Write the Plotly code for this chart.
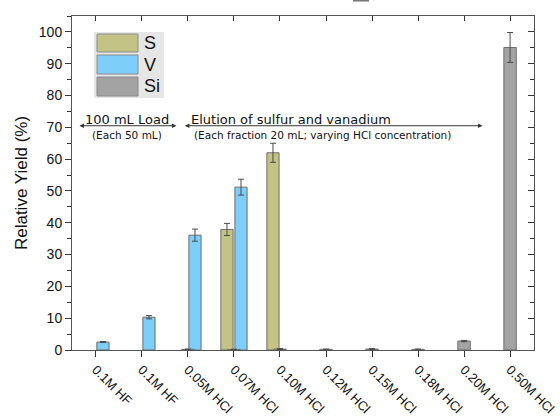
import plotly.graph_objects as go

# Fractions collected during the column run (the first two are both 0.1M HF load fractions)
fractions = ["0.1M HF", "0.1M HF", "0.05M HCl", "0.07M HCl", "0.10M HCl",
             "0.12M HCl", "0.15M HCl", "0.18M HCl", "0.20M HCl", "0.50M HCl"]
positions = list(range(len(fractions)))

# Relative yield (%) per element and its uncertainty
s_yield = [None, None, None, 37.9, 62.0, None, None, None, None, None]
s_err = [0, 0, 0, 1.9, 3.0, 0, 0, 0, 0, 0]
v_yield = [2.5, 10.3, 36.1, 51.2, None, None, None, None, None, None]
v_err = [0.15, 0.5, 1.9, 2.5, 0, 0, 0, 0, 0, 0]
si_yield = [None, None, 0.2, 0.15, 0.3, 0.2, 0.3, 0.2, 2.8, 95.1]
si_err = [0, 0, 0.1, 0.1, 0.15, 0.1, 0.15, 0.1, 0.2, 4.7]

colors = {"S": "#c3c386", "V": "#7dcef8", "Si": "#a3a3a3"}
offsets = {"S": -0.285, "V": 0.02, "Si": -0.135}
widths = {"S": 0.265, "V": 0.265, "Si": 0.27}

fig = go.Figure()
for name, vals, errs in [("S", s_yield, s_err), ("V", v_yield, v_err), ("Si", si_yield, si_err)]:
    fig.add_trace(go.Bar(
        x=positions, y=vals, name=name,
        width=widths[name], offset=offsets[name],
        marker=dict(color=colors[name], line=dict(color="#6e6e6e", width=1)),
        error_y=dict(type="data", array=errs, visible=True,
                     color="#4a4a4a", thickness=1, width=3),
        showlegend=False,
    ))

axis_col = "#555555"
tick_font = dict(family="Liberation Sans, Arial, sans-serif", size=14, color="#111111")

fig.update_layout(
    width=560, height=416,
    margin=dict(l=72, r=26, t=16, b=66),
    paper_bgcolor="white", plot_bgcolor="white",
    barmode="overlay",
    xaxis=dict(
        range=[-0.52, 9.52], tickvals=positions, ticktext=fractions,
        tickangle=45, tickfont=dict(family="Liberation Sans, Arial, sans-serif", size=13, color="#111111"),
        ticklabeloverflow="allow",
        ticks="outside", ticklen=6, tickcolor="#333333", tickwidth=1,
        showline=True, linecolor=axis_col, linewidth=1, showgrid=False,
        zeroline=False, automargin=False,
    ),
    yaxis=dict(
        range=[0, 105], tickvals=[0, 10, 20, 30, 40, 50, 60, 70, 80, 90, 100],
        ticks="outside", ticklen=6, tickcolor="#333333", tickwidth=1,
        minor=dict(dtick=5, ticks="outside", ticklen=4, tickcolor="#333333"),
        tickfont=tick_font, showline=True, linecolor=axis_col, linewidth=1,
        showgrid=False, zeroline=False, automargin=False,
        title=dict(text="Relative Yield (%)", standoff=6,
                   font=dict(family="Liberation Sans, Arial, sans-serif", size=17, color="#111111")),
    ),
    # mirrored frame with inward ticks on top and right
    xaxis2=dict(
        overlaying="x", side="top", range=[-0.52, 9.52], tickvals=positions,
        showticklabels=False, ticks="inside", ticklen=5, tickcolor="#333333",
        showline=True, linecolor=axis_col, showgrid=False, zeroline=False,
    ),
    yaxis2=dict(
        overlaying="y", side="right", range=[0, 105], dtick=10,
        showticklabels=False, ticks="inside", ticklen=6, tickcolor="#333333",
        minor=dict(dtick=5, ticks="inside", ticklen=4, tickcolor="#333333"),
        showline=True, linecolor=axis_col, showgrid=False, zeroline=False,
    ),
)

# invisible trace to activate the mirrored axes
fig.add_trace(go.Scatter(x=[None], y=[None], xaxis="x2", yaxis="y2", showlegend=False))

# legend panel
fig.add_shape(type="rect", xref="paper", yref="paper",
              x0=(94 - 72) / 462, x1=(164 - 72) / 462,
              y0=(350 - 98) / 334, y1=(350 - 32) / 334,
              fillcolor="#e6e6e6", line=dict(width=0), layer="above")
legend_rows = [("S", 34, 52), ("V", 55, 74), ("Si", 77, 96)]
for name, top, bot in legend_rows:
    fig.add_shape(type="rect", xref="paper", yref="paper",
                  x0=(97 - 72) / 462, x1=(138 - 72) / 462,
                  y0=(350 - bot) / 334, y1=(350 - top) / 334,
                  fillcolor=colors[name], line=dict(color="#8a8a8a", width=1), layer="above")
    fig.add_annotation(xref="paper", yref="paper", x=(142 - 72) / 462,
                       y=(350 - (top + bot) / 2) / 334, text=name, showarrow=False,
                       xanchor="left", yanchor="middle",
                       font=dict(family="Liberation Sans, Arial, sans-serif", size=18, color="#111111"))

label_font = dict(family="DejaVu Sans, Verdana, sans-serif", size=13, color="#111111")
small_font = dict(family="DejaVu Sans, Verdana, sans-serif", size=10.5, color="#111111")

fig.add_annotation(x=0.68, y=72.6, text="100 mL Load", showarrow=False,
                   xanchor="center", yanchor="middle", font=label_font)
fig.add_annotation(x=0.68, y=67.7, text="(Each 50 mL)", showarrow=False,
                   xanchor="center", yanchor="middle", font=small_font)
fig.add_annotation(x=2.02, y=72.6, text="Elution of sulfur and vanadium", showarrow=False,
                   xanchor="left", yanchor="middle", font=label_font)
fig.add_annotation(x=2.08, y=67.7, text="(Each fraction 20 mL; varying HCl concentration)",
                   showarrow=False, xanchor="left", yanchor="middle", font=small_font)

# span arrows
for x_start, x_end in [(-0.39, 1.75), (1.9, 8.4)]:
    fig.add_annotation(x=x_end, y=70.5, ax=x_start, ay=70.5, axref="x", ayref="y",
                       text="", showarrow=True, arrowhead=2, startarrowhead=2,
                       arrowside="end+start", arrowsize=0.9, startarrowsize=0.9,
                       arrowwidth=1, arrowcolor="#333333")

# clipped element at the top edge
fig.add_shape(type="line", xref="paper", yref="paper",
              x0=(353 - 72) / 462, x1=(369 - 72) / 462,
              y0=(350 - 0.5) / 334, y1=(350 - 0.5) / 334,
              line=dict(color="#777777", width=2))

fig.write_html("out.html")
